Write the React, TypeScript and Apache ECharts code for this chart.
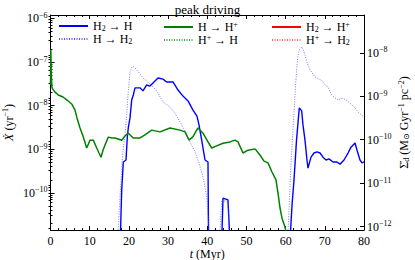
import React, { useEffect, useRef } from 'react';
import * as echarts from 'echarts';

const FONT = '"Liberation Serif", "DejaVu Serif", serif';

// time (Myr) and log10 rate values (null = gap)
const h2ToHTime = [17.86, 18.17, 18.58, 19.27, 19.6, 19.85, 20.29, 20.72, 21.13, 21.56, 22.33, 22.84, 23.6, 24.55, 25.39, 26.16, 27.43, 28.71, 29.65, 30.49, 31.26, 32.54, 33.81, 35.09, 36.36, 37.38, 37.89, 38.58, 39.43, 40.19, 40.32, 42.0, 43.76, 44.02, 45.29, 45.68, 52.0, 61.24, 61.63, 62.14, 62.78, 63.49, 64.1, 64.43, 64.94, 65.45, 65.71, 66.48, 67.24, 68.01, 68.78, 69.54, 70.31, 71.07, 72.09, 73.11, 73.88, 74.9, 75.92, 76.69, 77.71, 78.22, 78.98, 79.49, 80];
const h2ToHLog = [-10.9, -9.93, -9.29, -9.245, -8.72, -8.51, -8.28, -7.87, -7.755, -7.59, -7.59, -7.59, -7.66, -7.525, -7.55, -7.48, -7.365, -7.39, -7.455, -7.455, -7.455, -7.64, -7.78, -7.89, -8.1, -8.24, -8.44, -8.79, -9.245, -9.29, -10.9, null, -10.9, -10.12, -10.16, -10.9, null, -10.9, -10.28, -9.7, -8.79, -8.05, -8.12, -8.44, -8.79, -9.245, -9.43, -9.18, -9.085, -9.06, -9.085, -9.18, -9.245, -9.22, -9.29, -9.29, -9.34, -9.245, -9.085, -8.95, -8.855, -9.02, -9.245, -9.31, -9.29];

const hToH2Time = [17.22, 17.74, 18.5, 19.01, 19.45, 19.78, 20.29, 20.8, 21.13, 21.56, 22.0, 22.84, 23.6, 25.39, 27.1, 28.71, 30.49, 31.77, 33.04, 34.32, 35.6, 36.87, 37.64, 38.41, 38.92, 39.86, 40.19, 40.45, 42.0, 43.25, 43.69, 45.29, 45.55, 52.0, 60.61, 61.37, 61.88, 62.57, 63.08, 63.49, 64.1, 64.69, 65.38, 66.22, 67.5, 69.21, 70.05, 70.82, 71.76, 72.6, 73.37, 74.13, 74.64, 75.41, 76.43, 77.71, 78.73, 79.49, 80];
const hToH2Log = [-10.9, -10.09, -9.02, -8.67, -8.21, -7.755, -7.23, -7.11, -7.1, -7.135, -7.18, -7.27, -7.365, -7.5, -7.66, -7.915, -8.03, -8.17, -8.37, -8.58, -8.83, -9.06, -9.245, -9.47, -9.635, -10.09, -10.51, -10.9, null, -10.9, -10.16, -10.21, -10.9, null, -10.9, -9.31, -8.56, -7.48, -6.88, -6.72, -6.65, -6.76, -6.99, -7.18, -7.34, -7.42, -7.525, -7.57, -7.755, -7.82, -7.87, -7.835, -7.83, -7.87, -7.94, -8.05, -8.17, -8.22, -8.25];

const hToHpTime = [0, 0.08, 0.2, 0.38, 1.15, 1.99, 3.19, 4.21, 5.41, 6.25, 6.76, 7.53, 8.29, 9.24, 9.57, 10.08, 10.92, 11.79, 12.38, 12.89, 13.4, 13.91, 14.75, 15.69, 16.46, 18.17, 19.01, 19.85, 21.13, 22.84, 24.11, 25.82, 27.94, 30.49, 33.04, 34.32, 35.34, 36.36, 37.64, 38.92, 40.19, 41.14, 42.41, 44.02, 45.8, 47.08, 47.85, 49.12, 50.4, 52.19, 53.46, 54.48, 55.5, 56.52, 57.54, 58.05, 58.56, 59.07, 59.84, 60.09];
const hToHpLog = [-7.525, -6.72, -7.3, -7.59, -7.69, -7.755, -7.8, -7.87, -7.96, -8.1, -8.28, -8.51, -8.695, -8.97, -8.9, -8.79, -8.79, -8.97, -9.085, -9.18, -9.02, -8.9, -8.72, -8.74, -8.74, -8.79, -8.695, -8.63, -8.74, -8.74, -8.67, -8.56, -8.6, -8.51, -8.56, -8.6, -8.79, -8.71, -8.51, -8.63, -8.83, -8.97, -8.92, -8.86, -8.83, -8.79, -8.83, -9.085, -9.02, -8.99, -9.13, -9.27, -9.31, -9.52, -9.7, -10.0, -10.34, -10.58, -10.78, -10.9];

const hpToHTime: number[] = [];
const hpToHLog: number[] = [];
const h2ToHpTime: number[] = [];
const h2ToHpLog: number[] = [];
const hpToH2Time: number[] = [];
const hpToH2Log: number[] = [];

const xTicks = [0, 10, 20, 30, 40, 50, 60, 70, 80];
const leftMajor = [-10, -9, -8, -7, -6];
const rightMajor = [-12, -11, -10, -9, -8];

const LEFT_MIN = -10.85, LEFT_MAX = -5.92;
const RIGHT_MIN = -12.08, RIGHT_MAX = -7.125;

function minorOf(major: number[], lo: number, hi: number) {
  const out: number[] = [];
  const all = [major[0] - 1, ...major];
  all.forEach((n) => {
    for (let k = 2; k <= 9; k++) {
      const v = n + Math.log10(k);
      if (v > lo && v < hi) out.push(v);
    }
  });
  return out;
}

function pair(t: number[], v: (number | null)[]) {
  return t.map((x, i) => [x, v[i] === null ? '-' : v[i]]);
}

const supRich = {
  b: { fontFamily: FONT, fontSize: 12, color: '#000' },
  s: { fontFamily: FONT, fontSize: 8, color: '#000', verticalAlign: 'top', padding: [0, 0, 6, 0] },
};

const legendRich = {
  n: { fontFamily: FONT, fontSize: 12, color: '#000' },
  sub: { fontFamily: FONT, fontSize: 8, color: '#000', padding: [5, 0, 0, 0] },
  sup: { fontFamily: FONT, fontSize: 8, color: '#000', padding: [0, 0, 6, 0] },
};

const legendLabels: Record<string, string> = {
  'H2>H': '{n|H}{sub|2}{n| → H}',
  'H>H2': '{n|H → H}{sub|2}',
  'H>H+': '{n|H → H}{sup|+}',
  'H+>H': '{n|H}{sup|+}{n| → H}',
  'H2>H+': '{n|H}{sub|2}{n| → H}{sup|+}',
  'H+>H2': '{n|H}{sup|+}{n| → H}{sub|2}',
};

export default function App() {
  const ref = useRef<HTMLDivElement>(null);
  useEffect(() => {
    if (!ref.current) return;
    const chart = echarts.init(ref.current, undefined, { renderer: 'svg' });
    const axisLine = { show: true, onZero: false, lineStyle: { color: '#000', width: 1 } };
    const fmtPow = (v: number) => `{b|10}{s|−${Math.round(-v)}}`;

    const series = [
      { name: 'H2>H', data: pair(h2ToHTime, h2ToHLog), color: '#0000ff', width: 1.4, type: 'solid' },
      { name: 'H>H2', data: pair(hToH2Time, hToH2Log), color: '#5555ff', width: 0.8, type: [1, 1.5] },
      { name: 'H>H+', data: pair(hToHpTime, hToHpLog), color: '#008000', width: 1.5, type: 'solid' },
      { name: 'H+>H', data: pair(hpToHTime, hpToHLog), color: '#33aa33', width: 0.8, type: [1, 1.5] },
      { name: 'H2>H+', data: pair(h2ToHpTime, h2ToHpLog), color: '#ff0000', width: 1.3, type: 'solid' },
      { name: 'H+>H2', data: pair(hpToH2Time, hpToH2Log), color: '#ff6666', width: 0.8, type: [1, 1.5] },
    ].map((s) => ({
      name: s.name,
      type: 'line',
      xAxisIndex: 0,
      yAxisIndex: 0,
      data: s.data,
      symbol: 'none',
      showSymbol: false,
      connectNulls: false,
      clip: true,
      color: s.color,
      lineStyle: { color: s.color, width: s.width, type: s.type },
    }));

    const cols = [58, 163, 271];
    const rows = [20, 33];
    const legendOrder = [['H2>H', 'H>H2'], ['H>H+', 'H+>H'], ['H2>H+', 'H+>H2']];
    const legends: any[] = [];
    legendOrder.forEach((col, ci) =>
      col.forEach((name, ri) =>
        legends.push({
          data: [name],
          left: cols[ci],
          top: rows[ri],
          padding: 0,
          itemWidth: 29,
          itemHeight: 10,
          selectedMode: false,
          itemStyle: { opacity: 0 },
          formatter: (n: string) => legendLabels[n],
          textStyle: { fontFamily: FONT, fontSize: 12, color: '#000', rich: legendRich },
        })
      )
    );

    chart.setOption({
      animation: false,
      backgroundColor: '#fff',
      title: {
        text: 'peak driving',
        left: 'center',
        top: -2,
        textStyle: { fontFamily: FONT, fontSize: 13, fontWeight: 'normal', color: '#000' },
      },
      legend: legends,
      grid: { left: 50.5, right: 51, top: 15, bottom: 30, containLabel: false, outerBoundsMode: 'none' },
      xAxis: [
        {
          type: 'value', position: 'bottom', min: 0, max: 80, interval: 10,
          axisLine,
          axisTick: { show: true, inside: true, length: 4, lineStyle: { color: '#000' } },
          minorTick: { show: true, splitNumber: 5, length: 2, lineStyle: { color: '#000' } },
          splitLine: { show: false },
          axisLabel: {
            fontFamily: FONT, fontSize: 12, color: '#000', margin: 5, lineHeight: 11,
            customValues: xTicks,
          },
          name: '{i|t} (Myr)',
          nameLocation: 'middle',
          nameGap: 18,
          nameMoveOverlap: false,
          nameTextStyle: {
            fontFamily: FONT, fontSize: 12, color: '#000', lineHeight: 11,
            rich: { i: { fontFamily: FONT, fontSize: 12, fontStyle: 'italic', color: '#000', lineHeight: 11 } },
          },
        },
        {
          type: 'value', position: 'top', min: 0, max: 80, interval: 10,
          axisLine,
          axisTick: { show: true, inside: true, length: 4, lineStyle: { color: '#000' } },
          minorTick: { show: true, splitNumber: 5, length: 2, lineStyle: { color: '#000' } },
          splitLine: { show: false },
          axisLabel: { show: false },
        },
      ],
      yAxis: [
        {
          type: 'value', position: 'left', min: LEFT_MIN, max: LEFT_MAX,
          axisLine,
          axisTick: { show: true, inside: true, length: 4, customValues: leftMajor, lineStyle: { color: '#000' } },
          axisLabel: {
            customValues: leftMajor, formatter: fmtPow, margin: 3, rich: supRich,
            fontFamily: FONT, fontSize: 12, color: '#000',
          },
          splitLine: { show: false },
          name: '{i|Ẋ} (yr{s|−1})',
          nameLocation: 'middle',
          nameGap: 35,
          nameMoveOverlap: false,
          nameRotate: 90,
          nameTextStyle: {
            fontFamily: FONT, fontSize: 12, color: '#000',
            rich: {
              i: { fontFamily: FONT, fontSize: 12, fontStyle: 'italic', color: '#000' },
              s: { fontFamily: FONT, fontSize: 8, color: '#000', padding: [0, 0, 6, 0] },
            },
          },
        },
        {
          type: 'value', position: 'left', min: LEFT_MIN, max: LEFT_MAX,
          axisLine: { show: false },
          axisTick: { show: true, inside: true, length: 2, customValues: minorOf(leftMajor, LEFT_MIN, LEFT_MAX), lineStyle: { color: '#000' } },
          axisLabel: { show: false },
          splitLine: { show: false },
        },
        {
          type: 'value', position: 'right', min: RIGHT_MIN, max: RIGHT_MAX,
          axisLine,
          axisTick: { show: true, inside: true, length: 4, customValues: rightMajor, lineStyle: { color: '#000' } },
          axisLabel: {
            customValues: rightMajor, formatter: fmtPow, margin: 3, rich: supRich,
            fontFamily: FONT, fontSize: 12, color: '#000',
          },
          splitLine: { show: false },
          name: 'Σ̇{sub|d} (M{sub|⊙} Gyr{s|−1} pc{s|−2})',
          nameLocation: 'middle',
          nameGap: 33,
          nameMoveOverlap: false,
          nameRotate: 90,
          nameTextStyle: {
            fontFamily: FONT, fontSize: 12, color: '#000',
            rich: {
              sub: { fontFamily: FONT, fontSize: 8, color: '#000', padding: [5, 0, 0, 0] },
              s: { fontFamily: FONT, fontSize: 8, color: '#000', padding: [0, 0, 6, 0] },
            },
          },
        },
        {
          type: 'value', position: 'right', min: RIGHT_MIN, max: RIGHT_MAX,
          axisLine: { show: false },
          axisTick: { show: true, inside: true, length: 2, customValues: minorOf(rightMajor, RIGHT_MIN, RIGHT_MAX), lineStyle: { color: '#000' } },
          axisLabel: { show: false },
          splitLine: { show: false },
        },
      ],
      series,
    });
    return () => chart.dispose();
  }, []);
  return <div ref={ref} style={{ position: 'fixed', left: 0, top: 0, width: 415, height: 260 }} />;
}
